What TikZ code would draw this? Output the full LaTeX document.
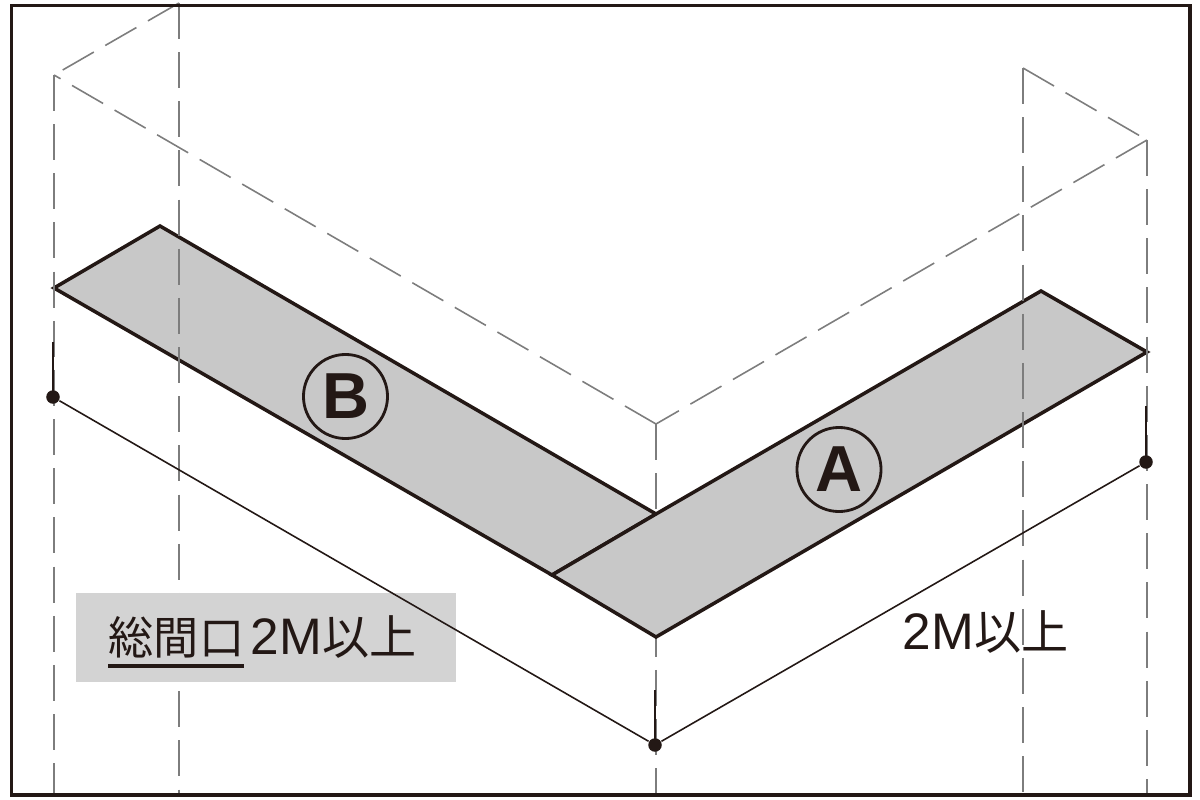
\documentclass[tikz,border=0pt]{standalone}
\usepackage{fontspec}
\setsansfont{Liberation Sans}
\newfontfamily\cjk{Noto Sans CJK JP}
\definecolor{inkblack}{HTML}{231815}
\definecolor{bandgray}{HTML}{C8C8C8}
\definecolor{boxgray}{HTML}{D3D3D3}
\definecolor{dashgray}{HTML}{7D7D7D}
\usetikzlibrary{positioning}
\newcommand{\sizetext}{{\sffamily\fontsize{14.6}{15}\selectfont 2M}{\cjk\fontsize{13.4}{15}\selectfont 以上}}
\tikzset{
	frameline/.style={draw=inkblack,line width=1.05pt},
	bandline/.style={draw=inkblack,fill=bandgray,line width=1pt,line join=miter},
	guideline/.style={draw=dashgray,line width=0.45pt,dash pattern=on 10.2pt off 3.78pt},
	measureline/.style={draw=inkblack,line width=0.45pt},
	tickline/.style={draw=inkblack,line width=0.55pt},
	dotmark/.style={circle,fill=inkblack,inner sep=0pt,minimum size=0.135cm},
	letterring/.style={circle,draw=inkblack,line width=0.8pt,minimum size=0.84cm,inner sep=0pt,font=\sffamily\bfseries\fontsize{18.5}{18.5}\selectfont,text=inkblack},
	sizelabel/.style={inner sep=0pt,text=inkblack,font=\fontsize{12.85}{13}\selectfont}
}
\begin{document}
\begin{tikzpicture}[x=0.01cm,y=-0.01cm]
	\useasboundingbox (0,0) rectangle (1200,800);
	% box corners of the room
	\coordinate (TL) at (54,75);
	\coordinate (TB) at (179,3);
	\coordinate (TC) at (656,424);
	\coordinate (TR) at (1147,140);
	\coordinate (TF) at (1023,68);
	% bands
	\coordinate (BW) at (54,288);
	\coordinate (BN) at (160,226);
	\coordinate (J) at (656,514);
	\coordinate (K) at (552,575);
	\coordinate (AN) at (1041,291);
	\coordinate (AE) at (1147,352);
	\coordinate (AS) at (656,637);

	\draw[guideline] (TC) -- (656,795);
	\draw[bandline] (BW) -- (BN) -- (J) -- (K) -- cycle;
	\draw[bandline] (K) -- (J) -- (AN) -- (AE) -- (AS) -- cycle;

	\draw[guideline] (TC) -- (TL);
	\draw[guideline] (TB) -- (TL);
	\draw[guideline] (TR) -- (TC);
	\draw[guideline] (TF) -- (TR);
	\draw[guideline] (TL) -- (54,795);
	\draw[guideline] (TB) -- (179,795);
	\draw[guideline] (TF) -- (1023,795);
	\draw[guideline] (TR) -- (1147,795);

	\node[fill=boxgray,inner sep=0pt,minimum width=3.8cm,minimum height=0.89cm] (sizebox) at (266,637.5) {};

	\node[dotmark] (P) at (53,397) {};
	\node[dotmark] (Q) at (655,745) {};
	\node[dotmark] (R) at (1146,462) {};
	\draw[measureline] (P) -- (Q) -- (R);
	\draw[tickline] (P.center) -- (53,342);
	\draw[tickline] (Q.center) -- (655,690);
	\draw[tickline] (R.center) -- (1146,406);

	\node[letterring] (ringB) at (345.5,396.5) {B};
	\node[letterring] (ringA) at (839,469.5) {A};

	\node[sizelabel,anchor=base west] (sougr) at (108,654) {\cjk 総間口};
	\node[sizelabel,right=0.05cm of sougr.base east,anchor=base west] (sousize) {\sizetext};
	\draw[inkblack,line width=0.95pt] (108,666) -- (244,666);
	\node[sizelabel,anchor=base west] (sidesize) at (902,649.5) {\sizetext};

	\draw[frameline] (11.5,5.5) rectangle (1190,795);
\end{tikzpicture}
\end{document}
